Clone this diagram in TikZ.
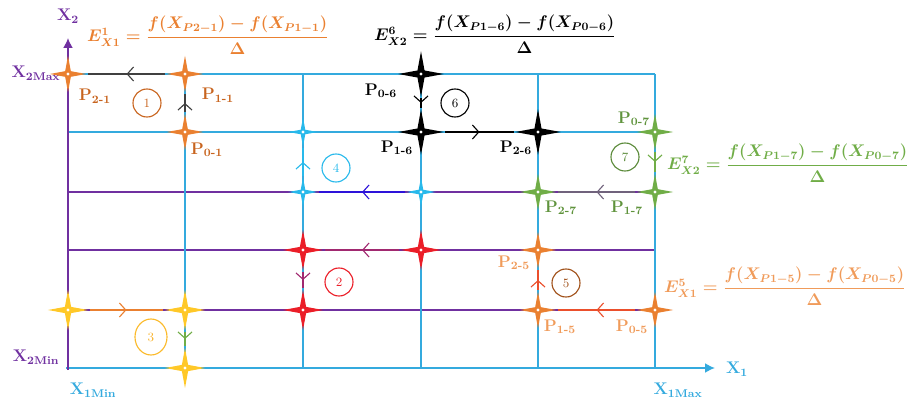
\documentclass[tikz,border=0pt]{standalone}
\usepackage{amsmath}
\usepackage{bm}
\usepackage{xcolor}
\usetikzlibrary{arrows.meta, positioning, shapes.geometric, decorations.markings}

\definecolor{lblue}{RGB}{52,170,222}
\definecolor{purp}{RGB}{112,48,160}
\definecolor{orng}{RGB}{234,128,48}
\definecolor{brwn}{RGB}{200,100,30}
\definecolor{lorng}{RGB}{240,155,90}
\definecolor{rred}{RGB}{235,30,40}
\definecolor{yell}{RGB}{255,200,40}
\definecolor{cyn}{RGB}{40,185,235}
\definecolor{grn}{RGB}{112,173,71}

\newcommand{\plab}[1]{\textbf{P\textsubscript{#1}}}
\newcommand{\xlab}[1]{\textbf{X\textsubscript{#1}}}
\newsavebox{\fmla}
\newsavebox{\fmlb}
\newsavebox{\fmlc}
\newsavebox{\fmld}

\tikzset{
  pt/.style={star, star points=4, star point ratio=0.22, shape border rotate=45,
    fill=#1, draw=none, minimum size=0.2cm, inner sep=0pt,
    path picture={\fill[white] (path picture bounding box.center) circle (1.1pt);}},
  flow/.style={#1, thick, postaction={decorate},
    decoration={markings, mark=at position 0.5 with {\arrow{Straight Barb[length=4.5pt,width=10pt]}}}},
  num/.style={circle, draw=#1, text=#1, thick, minimum size=0.7cm, inner sep=0pt, font=\small},
  lab/.style={text=#1, font=\large}
}

\begin{document}
\sbox{\fmla}{\color{orng}\large\boldmath$E^{1}_{X1}=\dfrac{f(X_{P2-1})-f(X_{P1-1})}{\Delta}$}
\sbox{\fmlb}{\color{black}\large\boldmath$E^{6}_{X2}=\dfrac{f(X_{P1-6})-f(X_{P0-6})}{\Delta}$}
\sbox{\fmlc}{\color{grn}\large\boldmath$E^{7}_{X2}=\dfrac{f(X_{P1-7})-f(X_{P0-7})}{\Delta}$}
\sbox{\fmld}{\color{lorng}\large\boldmath$E^{5}_{X1}=\dfrac{f(X_{P1-5})-f(X_{P0-5})}{\Delta}$}
\begin{tikzpicture}[x=0.025cm, y=-0.025cm]
  \useasboundingbox (0,0) rectangle (908,400);

  % grid
  \draw[lblue, thick] (68,74) -- (655,74);
  \draw[lblue, thick] (68,132) -- (655,132);
  \draw[purp, thick] (68,192) -- (655,192);
  \draw[purp, thick] (68,250) -- (655,250);
  \draw[purp, thick] (68,310) -- (655,310);
  \draw[lblue, thick] (185,74) -- (185,368);
  \draw[lblue, thick] (303,74) -- (303,368);
  \draw[lblue, thick] (421,74) -- (421,368);
  \draw[lblue, thick] (538,74) -- (538,368);
  \draw[lblue, thick] (655,74) -- (655,368);

  % axes
  \draw[lblue, very thick, -{Latex[length=7pt,width=7pt]}] (66,368) -- (715,368);
  \draw[purp, very thick, -{Latex[length=7pt,width=7pt]}] (68,370) -- (68,38);
  \node[lab=purp] (x2) at (68,16) {\xlab{2}};
  \node[lab=lblue] (x1) at (737,369) {\xlab{1}};
  \node[lab=purp] (x2max) at (36,73) {\xlab{2Max}};
  \node[lab=purp] (x2min) at (36,357) {\xlab{2Min}};
  \node[lab=lblue] (x1min) at (93,390) {\xlab{1Min}};
  \node[lab=lblue] (x1max) at (678,390) {\xlab{1Max}};

  % points
  \node[pt=orng] (p21) at (68,74) {};
  \node[pt=orng] (p11) at (185,74) {};
  \node[pt=orng] (p01) at (185,132) {};
  \node[pt=rred, minimum size=0.22cm] (p02) at (421,250) {};
  \node[pt=rred, minimum size=0.22cm] (p12) at (303,250) {};
  \node[pt=rred, minimum size=0.22cm] (p22) at (303,310) {};
  \node[pt=yell, minimum size=0.22cm] (p03) at (68,310) {};
  \node[pt=yell, minimum size=0.22cm] (p13) at (185,310) {};
  \node[pt=yell, minimum size=0.22cm] (p23) at (185,368) {};
  \node[pt=cyn, minimum size=0.16cm] (p04) at (421,192) {};
  \node[pt=cyn, minimum size=0.16cm] (p14) at (303,192) {};
  \node[pt=cyn, minimum size=0.16cm] (p24) at (303,132) {};
  \node[pt=orng] (p05) at (655,310) {};
  \node[pt=orng] (p15) at (538,310) {};
  \node[pt=orng] (p25) at (538,250) {};
  \node[pt=black, minimum size=0.25cm] (p06) at (421,74) {};
  \node[pt=black, minimum size=0.25cm] (p16) at (421,132) {};
  \node[pt=black, minimum size=0.25cm] (p26) at (538,132) {};
  \node[pt=grn] (p07) at (655,132) {};
  \node[pt=grn] (p17) at (655,192) {};
  \node[pt=grn] (p27) at (538,192) {};

  % flows
  \draw[flow=darkgray] (p01) -- (p11);
  \draw[flow=darkgray] (p11) -- (p21);
  \draw[flow=rred!40!purp] (p02) -- (p12);
  \draw[flow=rred!40!purp] (p12) -- (p22);
  \draw[flow=orng] (p03) -- (p13);
  \draw[flow=grn] (p13) -- (p23);
  \draw[flow=blue!60!purp] (p04) -- (p14);
  \draw[flow=cyn] (p14) -- (p24);
  \draw[flow=rred!50!orng] (p05) -- (p15);
  \draw[flow=rred!50!orng] (p15) -- (p25);
  \draw[flow=black] (p06) -- (p16);
  \draw[flow=black] (p16) -- (p26);
  \draw[flow=grn] (p07) -- (p17);
  \draw[flow=purp!60!grn] (p17) -- (p27);

  % numbers
  \node[num=brwn] (n1) at (147,103) {1};
  \node[num=rred] (n2) at (339,282) {2};
  \node[num=yell!80!orng, ellipse, minimum width=0.8cm, minimum height=0.9cm, text=yell!70!orng] (n3) at (151,337) {3};
  \node[num=cyn] (n4) at (336,168) {4};
  \node[num=brwn!80!black] (n5) at (566,283) {5};
  \node[num=black] (n6) at (455,103) {6};
  \node[num=grn!80!black] (n7) at (625,157) {7};

  % point labels
  \node[lab=brwn] (l21) at (95,96) {\plab{2-1}};
  \node[lab=brwn] (l11) at (218,95) {\plab{1-1}};
  \node[lab=brwn] (l01) at (207,150) {\plab{0-1}};
  \node[lab=black] (l06) at (381,91) {\plab{0-6}};
  \node[lab=black] (l16) at (397,148) {\plab{1-6}};
  \node[lab=black] (l26) at (516,148) {\plab{2-6}};
  \node[lab=grn!85!black] (l07) at (634,119) {\plab{0-7}};
  \node[lab=grn!85!black] (l27) at (561,208) {\plab{2-7}};
  \node[lab=grn!85!black] (l17) at (627,208) {\plab{1-7}};
  \node[lab=lorng] (l25) at (514,263) {\plab{2-5}};
  \node[lab=lorng] (l15) at (560,327) {\plab{1-5}};
  \node[lab=lorng] (l05) at (632,327) {\plab{0-5}};

  % error formulas
  \node (e1) at (208,35) {\usebox{\fmla}};
  \node (e6) at (495,34) {\usebox{\fmlb}};
  \node (e7) at (788,163) {\usebox{\fmlc}};
  \node (e5) at (785,286) {\usebox{\fmld}};
\end{tikzpicture}
\end{document}
